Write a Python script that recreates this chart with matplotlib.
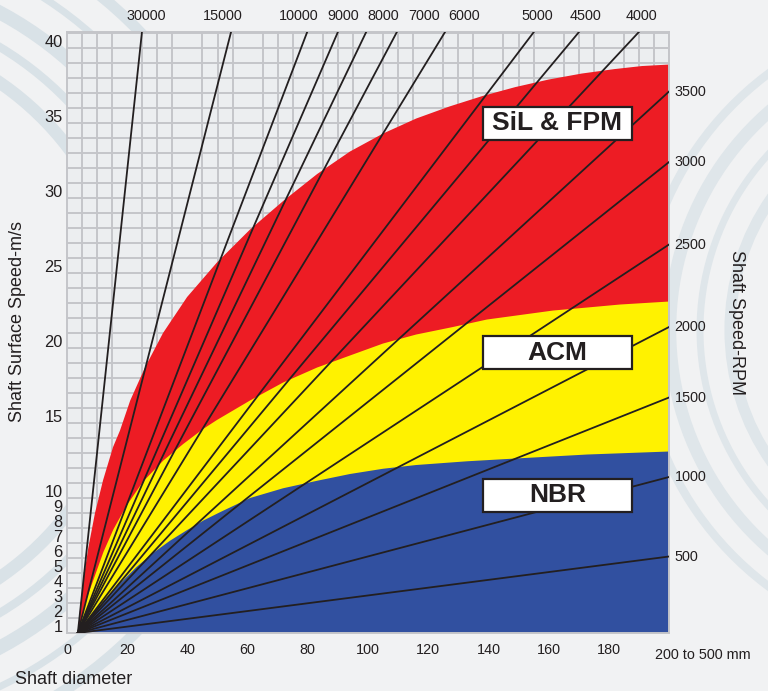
import matplotlib.pyplot as plt
import numpy as np
from matplotlib.patches import Rectangle, Arc

plt.rcParams['font.family'] = ['Liberation Sans', 'DejaVu Sans']

# Material limit curves (shaft diameter mm, surface speed m/s)
red_x = [3.6, 4.3, 5.4, 7.1, 9.3, 12.0, 15.3, 17.6, 21.0, 25.9, 31.9, 39.9, 49.8,
         60.8, 71.8, 83.1, 94.0, 105, 116, 127, 138, 149, 160, 171, 182, 191, 200]
red_y = [0.5, 2.0, 4.0, 6.2, 8.5, 10.7, 12.9, 14.0, 16.0, 18.2, 20.5, 22.9, 25.2,
         27.4, 29.3, 31.1, 32.6, 33.8, 34.8, 35.6, 36.3, 36.9, 37.4, 37.8, 38.1, 38.3, 38.4]

yellow_x = [3.6, 6.0, 8.7, 12.1, 15.4, 19.8, 25.3, 32.0, 38.6, 45.2, 49.8, 60.8, 71.8,
            83.1, 94.0, 105, 116, 128.2, 139.5, 150.5, 161.5, 172.8, 183.7, 200]
yellow_y = [0.5, 2.5, 4.0, 5.9, 7.4, 9.0, 10.6, 12.0, 13.1, 14.1, 14.7, 16.0, 17.2,
            18.2, 19.0, 19.8, 20.4, 20.9, 21.4, 21.7, 22.0, 22.2, 22.4, 22.6]

blue_x = [3.6, 7.6, 12.1, 17.6, 23.1, 28.7, 34.2, 39.8, 45.3, 50.8, 60.8, 71.8, 83.1,
          94.0, 105, 116, 133, 150.5, 172.8, 200]
blue_y = [0.5, 1.6, 2.6, 3.8, 4.9, 5.85, 6.65, 7.35, 8.0, 8.55, 9.5, 10.15, 10.65,
          11.1, 11.45, 11.7, 11.95, 12.15, 12.4, 12.6]

# RPM lines: those leaving through the top edge (end x) and through the right edge (end y)
rpm_top = [30000, 15000, 10000, 9000, 8000, 7000, 6000, 5000, 4500, 4000]
rpm_top_end_x = [24.9, 54.5, 79.8, 90.0, 99.4, 109.6, 125.6, 155.1, 170.1, 190.0]
rpm_top_label_x = [26.4, 51.7, 76.9, 91.9, 105.0, 118.6, 131.9, 156.3, 172.3, 190.7]
rpm_right = [3500, 3000, 2500, 2000, 1500, 1000, 500]
rpm_right_end_y = [36.6, 31.9, 26.4, 20.9, 16.2, 10.9, 5.6]
origin_x, origin_y = 3.6, 0.5

y_ticks = [1, 2, 3, 4, 5, 6, 7, 8, 9, 10, 15, 20, 25, 30, 35, 40]
x_ticks = [0, 20, 40, 60, 80, 100, 120, 140, 160, 180]

materials = ['SiL & FPM', 'ACM', 'NBR']
box_bottom = [33.4, 18.1, 8.6]

txt = '#231f20'
fig = plt.figure(figsize=(7.68, 6.91), dpi=100)
fig.patch.set_facecolor('#f1f2f3')

# faint swirl decoration in the background
bg = fig.add_axes([0, 0, 1, 1], zorder=0)
bg.set_xlim(0, 768)
bg.set_ylim(691, 0)
bg.axis('off')
for r, lw in [(300, 9), (330, 6), (360, 10), (395, 5), (430, 8)]:
    bg.add_patch(Arc((-170, 330), 2 * r, 2 * r, theta1=-70, theta2=70,
                     color='#d9e2e7', lw=lw))
for r, lw in [(230, 8), (260, 5), (290, 9), (320, 6)]:
    bg.add_patch(Arc((960, 330), 2 * r, 2 * r, theta1=110, theta2=250,
                     color='#dfe6ea', lw=lw))

ax = fig.add_axes([67 / 768, 1 - 633 / 691, 602 / 768, 601 / 691], zorder=1)
ax.set_facecolor('#eceef0')
ax.set_xlim(0, 200)
ax.set_ylim(0.5, 40.57)
ax.set_xticks(np.arange(0, 201, 5), minor=True)
ax.set_yticks(np.arange(0.5, 41, 1), minor=True)
ax.grid(which='minor', color='#c4c5c9', lw=1.4, zorder=0)
ax.set_axisbelow(True)
for s in ax.spines.values():
    s.set_color('#c4c5c9')
    s.set_linewidth(1.4)

ax.set_yticks(y_ticks)
ax.set_yticklabels([str(v) for v in y_ticks], fontsize=11.8, color=txt)
ax.set_xticks(x_ticks)
ax.set_xticklabels([str(v) for v in x_ticks], fontsize=10.4, color=txt)
ax.tick_params(which='both', length=0)
ax.tick_params(axis='y', pad=3)
ax.tick_params(axis='x', pad=7)
ax.text(195.3, -0.025, '200 to 500 mm', transform=ax.get_xaxis_transform(),
        ha='left', va='top', fontsize=10.4, color=txt)

# coloured bands
ax.fill(red_x + [200], red_y + [0.5], color='#ed1c24', lw=0, zorder=2)
ax.fill(yellow_x + [200], yellow_y + [0.5], color='#fff200', lw=0, zorder=2)
ax.fill(blue_x + [200], blue_y + [0.5], color='#3150a0', lw=0, zorder=2)

# RPM lines
for rpm, ex, lx in zip(rpm_top, rpm_top_end_x, rpm_top_label_x):
    ax.plot([origin_x, ex], [origin_y, 40.57], color=txt, lw=1.3, zorder=3)
    ax.text(lx, 1.026, str(rpm), transform=ax.get_xaxis_transform(),
            ha='center', va='center', fontsize=10.4, color=txt)
for rpm, ey in zip(rpm_right, rpm_right_end_y):
    ax.plot([origin_x, 200], [origin_y, ey], color=txt, lw=1.3, zorder=3)
    ax.text(201.8, ey, str(rpm), ha='left', va='center', fontsize=10.4,
            color=txt, clip_on=False)

# material boxes
for name, yb in zip(materials, box_bottom):
    ax.add_patch(Rectangle((138.2, yb), 49.5, 2.2, facecolor='white',
                           edgecolor=txt, lw=1.6, zorder=5))
    ax.text(138.2 + 49.5 / 2, yb + 1.1, name, ha='center', va='center',
            fontsize=19, fontweight='bold', color=txt, zorder=6)

fig.text(18 / 768, 1 - 321 / 691, 'Shaft Surface Speed-m/s', rotation=90,
         ha='center', va='center', fontsize=13, color=txt)
fig.text(736 / 768, 1 - 322 / 691, 'Shaft Speed-RPM', rotation=-90,
         ha='center', va='center', fontsize=13, color=txt)
fig.text(15 / 768, 1 - 679 / 691, 'Shaft diameter', ha='left', va='center',
         fontsize=13, color=txt)

plt.savefig('out.png', dpi=100, facecolor=fig.get_facecolor())
